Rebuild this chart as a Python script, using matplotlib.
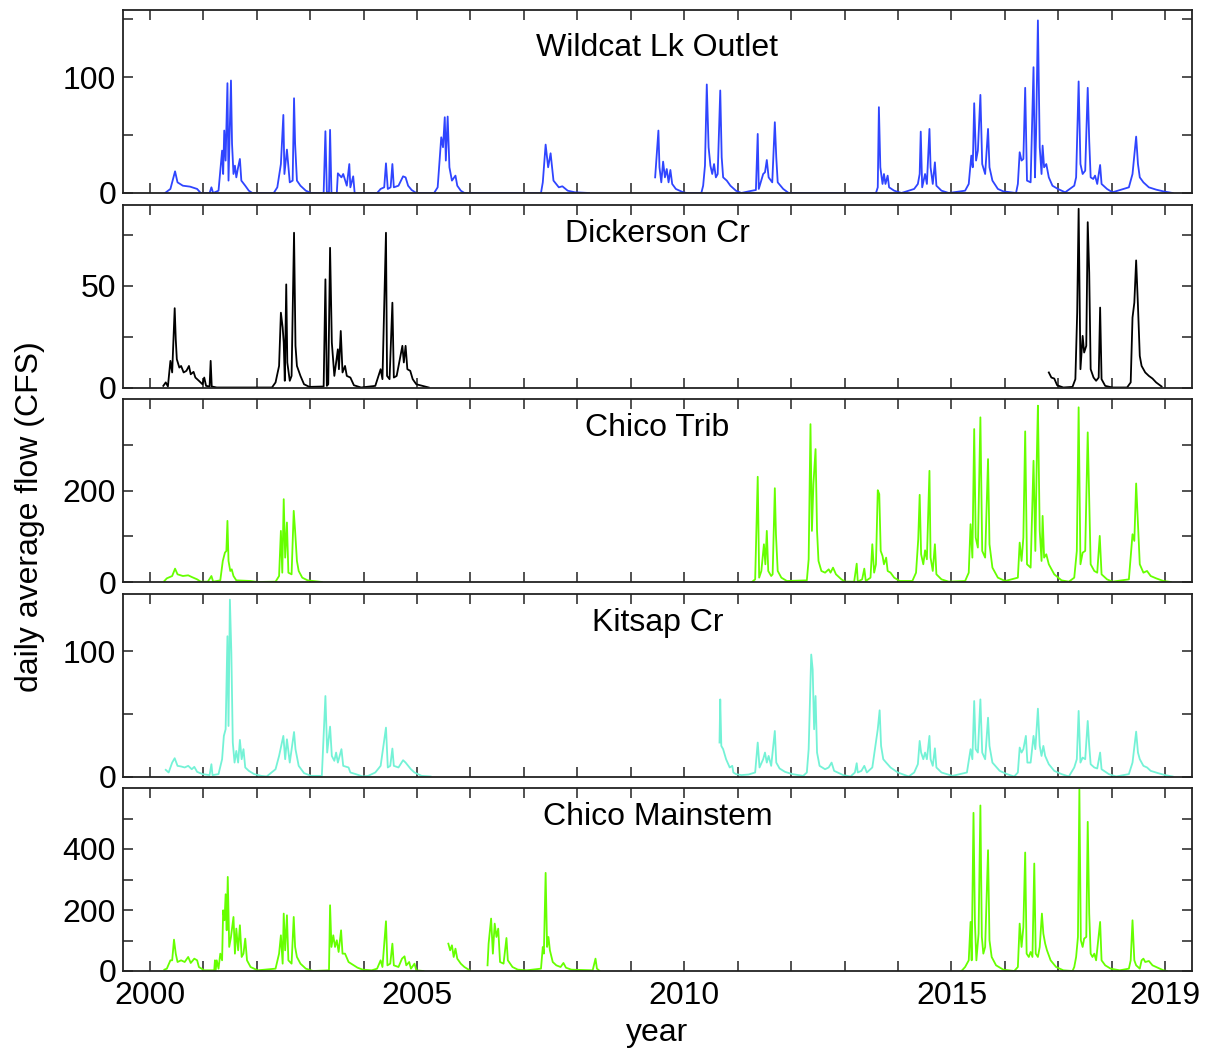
import numpy as np
import matplotlib
matplotlib.use("Agg")
import matplotlib.pyplot as plt

nan = np.nan

# ---------------- data ----------------
station_names = ["Wildcat Lk Outlet", "Dickerson Cr", "Chico Trib", "Kitsap Cr", "Chico Mainstem"]
year_ticks = list(range(2000, 2020))
year_tick_labels = ["2000", "", "", "", "", "2005", "", "", "", "", "2010",
                    "", "", "", "", "2015", "", "", "", "2019"]

wildcat_year = [
    2000.287, 2000.387, 2000.474, 2000.520, 2000.620, 2000.754, 2000.887, 2000.954, 2001.120, 2001.154,
    2001.187, 2001.287, 2001.354, 2001.374, 2001.394, 2001.420, 2001.454, 2001.474, 2001.520, 2001.540,
    2001.567, 2001.594, 2001.620, 2001.654, 2001.687, 2001.714, 2001.787, 2001.854, 2001.920, 2002.320,
    2002.387, 2002.454, 2002.500, 2002.520, 2002.567, 2002.620, 2002.674, 2002.700, 2002.720, 2002.754,
    2002.820, 2002.920, 2003.020, 2003.254, 2003.287, 2003.314, 2003.354, 2003.374, 2003.400, 2003.500,
    2003.520, 2003.587, 2003.620, 2003.687, 2003.734, 2003.754, 2003.807, 2003.834, 2004.254, 2004.320,
    2004.387, 2004.420, 2004.454, 2004.507, 2004.540, 2004.567, 2004.654, 2004.740, 2004.787, 2004.834,
    2004.900, 2004.987, 2005.320, 2005.387, 2005.454, 2005.487, 2005.520, 2005.540, 2005.574, 2005.607,
    2005.654, 2005.720, 2005.754, 2005.820, 2005.887, 2007.320, 2007.354, 2007.407, 2007.454, 2007.500,
    2007.554, 2007.654, 2007.720, 2007.820, 2007.954, 2008.220, 2008.800,
    2009.456, 2009.517, 2009.537, 2009.571, 2009.605, 2009.639, 2009.673, 2009.707, 2009.741, 2009.775,
    2009.843, 2009.979, 2010.048, 2010.320, 2010.354, 2010.388, 2010.422, 2010.456, 2010.490, 2010.524,
    2010.558, 2010.592, 2010.626, 2010.674, 2010.701, 2010.728, 2010.796, 2010.864, 2010.967, 2011.069,
    2011.205, 2011.341, 2011.375, 2011.395, 2011.477, 2011.511, 2011.545, 2011.579, 2011.647, 2011.695,
    2011.722, 2011.749, 2011.852, 2011.954, 2013.587, 2013.621, 2013.642, 2013.669, 2013.710, 2013.737,
    2013.765, 2013.806, 2013.833, 2013.928, 2014.064, 2014.302, 2014.371, 2014.405, 2014.425, 2014.452,
    2014.506, 2014.540, 2014.588, 2014.609, 2014.650, 2014.690, 2014.718, 2014.813, 2014.949, 2015.255,
    2015.323, 2015.371, 2015.398, 2015.425, 2015.460, 2015.494, 2015.541, 2015.575, 2015.630, 2015.684,
    2015.711, 2015.766, 2015.868, 2015.970, 2016.208, 2016.242, 2016.276, 2016.311, 2016.345, 2016.379,
    2016.413, 2016.481, 2016.535, 2016.562, 2016.583, 2016.617, 2016.651, 2016.685, 2016.705, 2016.733,
    2016.774, 2016.821, 2016.889, 2016.991, 2017.127, 2017.297, 2017.332, 2017.379, 2017.413, 2017.454,
    2017.502, 2017.549, 2017.577, 2017.604, 2017.652, 2017.686, 2017.727, 2017.781, 2017.808, 2017.910,
    2018.012, 2018.319, 2018.387, 2018.455, 2018.489, 2018.523, 2018.591, 2018.693, 2018.829, 2018.966,
    2019.136]
wildcat_cfs = [
    0, 3.5, 18.7, 9.2, 6.3, 5.5, 3.5, 0, 0, 4.9,
    0, 2, 36.6, 16.4, 53.9, 28, 94.8, 10.7, 97.1, 42.4,
    16.4, 23.6, 13.5, 22.2, 29.4, 10.7, 6.3, 2, 0, 0,
    4.9, 25, 67.4, 16.4, 37.5, 9.2, 10.7, 81.8, 42.4, 10.7,
    6.3, 2, 0, 0, 53.3, 0.6, 0.6, 54.5, 0, 0,
    17, 13.5, 16.4, 6.3, 25, 4.9, 14.4, 0, 0, 3.5,
    4.9, 25.6, 3.5, 4.9, 25, 4.9, 6.3, 14.4, 13.5, 6.3,
    2.6, 0, 0, 4.9, 48.1, 39.5, 65.4, 28, 66, 22.2,
    10.7, 15, 6.3, 2, 0, 0, 9.2, 41.8, 22.2, 34.3,
    10.7, 4.9, 5.8, 2, 0.6, 0, nan,
    13.5, 53.9, 22.2, 9.2, 27.1, 13.5, 20.7, 9.2, 19.9, 7.8,
    3.5, 0.6, 0, 0, 6.3, 23.6, 93.7, 39.5, 23.6, 16.4,
    25, 13.5, 16.4, 88.5, 30.8, 13.5, 10.7, 6.3, 2, 0,
    1.4, 2.6, 51, 3.5, 16.4, 17.9, 28.5, 13.5, 9.2, 61.1,
    30.8, 9.2, 3.5, 0, 0, 4.9, 74.1, 22.2, 7.8, 16.4,
    7.8, 15, 4.9, 2, 0, 3.5, 7.8, 16.4, 53, 4.9,
    16.4, 7.8, 55.3, 22.2, 7.8, 26.5, 6.3, 2, 0, 2,
    7.8, 32.3, 22.2, 77.5, 28, 36.6, 84.7, 25, 16.4, 55.3,
    22.2, 10.7, 3.5, 1.4, 0, 7.8, 35.2, 28, 29.4, 90.8,
    10.7, 9.2, 108.6, 13.5, 51, 149, 39.5, 16.4, 40.9, 22.2,
    25, 13.5, 6.3, 3.5, 0.6, 6.3, 13.5, 96.3, 25, 16.4,
    19.3, 90.8, 45.2, 13.5, 12.1, 15, 7.8, 24.2, 7.8, 3.5,
    0.6, 4.9, 16.4, 48.7, 25, 13.5, 9.2, 4.9, 2.9, 1.4,
    0]

dickerson_year = [
    2000.254, 2000.300, 2000.340, 2000.387, 2000.420, 2000.467, 2000.487, 2000.507, 2000.554, 2000.587,
    2000.634, 2000.687, 2000.734, 2000.767, 2000.820, 2000.854, 2000.920, 2000.987, 2001.020, 2001.054,
    2001.120, 2001.140, 2001.160, 2001.254, 2002.287, 2002.354, 2002.420, 2002.454, 2002.487, 2002.507,
    2002.527, 2002.554, 2002.574, 2002.620, 2002.654, 2002.700, 2002.727, 2002.754, 2002.820, 2002.887,
    2002.987, 2003.254, 2003.287, 2003.314, 2003.340, 2003.374, 2003.407, 2003.454, 2003.520, 2003.540,
    2003.574, 2003.607, 2003.654, 2003.687, 2003.754, 2003.820, 2003.954, 2004.220, 2004.320, 2004.354,
    2004.420, 2004.440, 2004.487, 2004.540, 2004.567, 2004.620, 2004.727, 2004.754, 2004.787, 2004.820,
    2004.874, 2004.920, 2004.987, 2005.220, 2010.000,
    2016.821, 2016.869, 2016.923, 2016.977, 2017.093, 2017.264, 2017.318, 2017.352, 2017.379, 2017.413,
    2017.454, 2017.482, 2017.522, 2017.549, 2017.577, 2017.604, 2017.658, 2017.706, 2017.754, 2017.781,
    2017.808, 2017.876, 2018.012, 2018.285, 2018.353, 2018.387, 2018.421, 2018.455, 2018.489, 2018.523,
    2018.557, 2018.625, 2018.693, 2018.761, 2018.829, 2018.931]
dickerson_cfs = [
    0.8, 2.5, 0.5, 13.1, 7.4, 39, 23.7, 13.9, 9.8, 10.6,
    7.4, 8.2, 10.6, 6.5, 7.7, 4.9, 3.3, 1.6, 4.9, 0.8,
    0.5, 13.1, 0.5, 0, 0, 2.5, 10.6, 36.8, 29.5, 22.1,
    3.3, 50.7, 12.3, 3.3, 5.7, 76.1, 20.5, 10.6, 5.7, 1.6,
    0.3, 0.5, 53.2, 0.8, 1.6, 68.7, 22.1, 5.7, 18.8, 9,
    27.8, 7.4, 10.6, 5.7, 4.9, 1.1, 0, 0.8, 9, 4.1,
    76.1, 5.7, 4.1, 41.7, 4.9, 5.7, 20.5, 12.3, 20.5, 9,
    8.2, 4.1, 1.6, 0, nan,
    7.4, 4.9, 4.4, 1.1, 0, 0.3, 4.1, 36.8, 87.9, 9,
    25.4, 17.2, 20.5, 81.3, 56.5, 9, 4.9, 3.3, 4.9, 39.3,
    4.1, 0.8, 0, 0, 2.5, 34.4, 41.7, 62.5, 40.1, 15.5,
    10.6, 7.4, 5.7, 4.4, 2.5, 0.5]

chico_trib_year = [
    2000.274, 2000.320, 2000.420, 2000.474, 2000.520, 2000.620, 2000.720, 2000.787, 2000.887, 2000.954,
    2001.087, 2001.154, 2001.187, 2001.320, 2001.367, 2001.407, 2001.434, 2001.454, 2001.474, 2001.507,
    2001.534, 2001.567, 2001.620, 2001.887, 2002.020, 2002.354, 2002.420, 2002.454, 2002.480, 2002.507,
    2002.534, 2002.567, 2002.594, 2002.654, 2002.694, 2002.720, 2002.754, 2002.787, 2002.854, 2002.954,
    2003.220, 2007.000,
    2011.273, 2011.327, 2011.375, 2011.402, 2011.443, 2011.491, 2011.518, 2011.545, 2011.572, 2011.627,
    2011.654, 2011.695, 2011.716, 2011.749, 2011.817, 2011.920, 2012.294, 2012.328, 2012.362, 2012.389,
    2012.417, 2012.457, 2012.485, 2012.512, 2012.566, 2012.635, 2012.703, 2012.737, 2012.784, 2012.839,
    2012.941, 2013.009, 2013.179, 2013.227, 2013.247, 2013.329, 2013.369, 2013.397, 2013.485, 2013.519,
    2013.553, 2013.587, 2013.621, 2013.649, 2013.676, 2013.710, 2013.737, 2013.778, 2013.806, 2013.860,
    2013.928, 2014.030, 2014.268, 2014.337, 2014.378, 2014.405, 2014.432, 2014.473, 2014.506, 2014.540,
    2014.588, 2014.609, 2014.650, 2014.690, 2014.718, 2014.813, 2014.949, 2015.255, 2015.323, 2015.357,
    2015.391, 2015.425, 2015.453, 2015.494, 2015.541, 2015.575, 2015.630, 2015.684, 2015.711, 2015.766,
    2015.868, 2016.004, 2016.242, 2016.276, 2016.311, 2016.345, 2016.379, 2016.413, 2016.481, 2016.535,
    2016.569, 2016.597, 2016.617, 2016.651, 2016.685, 2016.705, 2016.733, 2016.774, 2016.821, 2016.923,
    2017.059, 2017.196, 2017.297, 2017.345, 2017.379, 2017.413, 2017.454, 2017.502, 2017.549, 2017.577,
    2017.604, 2017.672, 2017.727, 2017.774, 2017.808, 2017.910, 2018.012, 2018.319, 2018.387, 2018.421,
    2018.455, 2018.489, 2018.523, 2018.591, 2018.659, 2018.727, 2018.829, 2018.966, 2019.102]
chico_trib_cfs = [
    2.2, 8, 13.1, 29.2, 16.8, 13.1, 14.6, 10.9, 5.8, 0.7,
    0.7, 13.1, 0.7, 3.6, 46, 64.2, 67.9, 133.6, 46, 24.1,
    27.7, 13.1, 3.6, 2.2, 0, 0.7, 13.1, 111.7, 20.4, 181,
    53.3, 130, 20.4, 16.8, 155.5, 111.7, 46, 24.1, 9.5, 3.6,
    0, nan,
    0.7, 5.8, 230, 9.5, 24.1, 82.5, 38.7, 111.7, 24.1, 13.1,
    16.8, 205, 104.4, 24.1, 9.5, 2.2, 3.6, 49.6, 345, 111.7,
    213.9, 290.5, 111.7, 46, 24.1, 20.4, 27.7, 20.4, 31.4, 16.8,
    5.8, 0.7, 0.7, 40.1, 0.7, 5.8, 29.2, 2.2, 9.5, 82.5,
    20.4, 38.7, 200.7, 192, 67.9, 56.9, 38.7, 53.3, 24.1, 20.4,
    9.5, 2.2, 2.2, 20.4, 93.4, 190.5, 60.6, 38.7, 69.3, 49.6,
    243, 53.3, 24.1, 82.5, 16.8, 5.8, 0.7, 2.2, 20.4, 126.3,
    53.3, 334.3, 97.1, 75.2, 359.9, 67.9, 53.3, 268.6, 82.5, 31.4,
    9.5, 2.2, 9.5, 86.1, 46, 97.1, 329.2, 38.7, 31.4, 265,
    67.9, 275.9, 385.4, 111.7, 46, 144.5, 53.3, 60.6, 38.7, 16.8,
    3.6, 0.7, 9.5, 67.9, 381.8, 38.7, 64.2, 67.9, 327, 184.7,
    38.7, 24.1, 20.4, 100.7, 16.8, 5.8, 0.7, 5.8, 104.4, 89.8,
    215.3, 126.3, 38.7, 20.4, 24.1, 13.1, 8, 2.2, 0]

kitsap_year = [
    2000.300, 2000.354, 2000.420, 2000.467, 2000.520, 2000.587, 2000.654, 2000.720, 2000.787, 2000.834,
    2000.887, 2000.987, 2001.120, 2001.154, 2001.174, 2001.287, 2001.354, 2001.387, 2001.420, 2001.454,
    2001.474, 2001.500, 2001.527, 2001.554, 2001.587, 2001.620, 2001.654, 2001.687, 2001.720, 2001.754,
    2001.787, 2001.854, 2001.954, 2002.087, 2002.187, 2002.354, 2002.420, 2002.500, 2002.534, 2002.567,
    2002.620, 2002.700, 2002.727, 2002.787, 2002.887, 2003.020, 2003.220, 2003.287, 2003.320, 2003.374,
    2003.407, 2003.454, 2003.487, 2003.520, 2003.587, 2003.620, 2003.720, 2003.754, 2003.854, 2003.987,
    2004.087, 2004.220, 2004.320, 2004.420, 2004.454, 2004.500, 2004.540, 2004.567, 2004.654, 2004.740,
    2004.787, 2004.887, 2004.954, 2005.087, 2005.254, 2008.000,
    2010.660, 2010.674, 2010.694, 2010.728, 2010.783, 2010.851, 2010.899, 2010.919, 2010.967, 2011.069,
    2011.205, 2011.327, 2011.375, 2011.409, 2011.477, 2011.511, 2011.545, 2011.579, 2011.627, 2011.695,
    2011.722, 2011.784, 2011.886, 2012.022, 2012.226, 2012.294, 2012.328, 2012.376, 2012.403, 2012.430,
    2012.457, 2012.485, 2012.532, 2012.635, 2012.703, 2012.757, 2012.805, 2012.975, 2013.111, 2013.193,
    2013.227, 2013.247, 2013.315, 2013.369, 2013.417, 2013.519, 2013.621, 2013.656, 2013.683, 2013.724,
    2013.778, 2013.860, 2013.996, 2014.200, 2014.302, 2014.371, 2014.405, 2014.432, 2014.473, 2014.506,
    2014.540, 2014.588, 2014.609, 2014.650, 2014.690, 2014.718, 2014.813, 2015.017, 2015.289, 2015.357,
    2015.391, 2015.425, 2015.453, 2015.494, 2015.541, 2015.575, 2015.630, 2015.684, 2015.711, 2015.766,
    2015.902, 2016.038, 2016.174, 2016.242, 2016.276, 2016.311, 2016.345, 2016.392, 2016.420, 2016.481,
    2016.535, 2016.569, 2016.617, 2016.651, 2016.685, 2016.719, 2016.753, 2016.821, 2016.923, 2017.059,
    2017.196, 2017.297, 2017.345, 2017.379, 2017.413, 2017.454, 2017.502, 2017.549, 2017.577, 2017.604,
    2017.672, 2017.727, 2017.781, 2017.808, 2017.944, 2018.080, 2018.319, 2018.387, 2018.455, 2018.489,
    2018.523, 2018.591, 2018.659, 2018.727, 2018.863, 2018.999, 2019.136]
kitsap_cfs = [
    5.3, 3.2, 11.1, 14.6, 8.5, 8, 7.2, 8.5, 5.8, 7.7,
    3.7, 1.9, 1.1, 9.8, 1.1, 1.9, 13.8, 32.4, 37.7, 111.9,
    40.3, 141.1, 98.7, 27.1, 11.1, 20.4, 11.1, 29.2, 13.8, 21.8,
    7.2, 4.5, 1.9, 0.5, 0, 5.8, 16.4, 32.4, 13.8, 29.7,
    11.1, 35.5, 21.8, 8.5, 2.7, 0.5, 0.5, 64.2, 19.1, 39.8,
    16.4, 12.5, 19.1, 11.1, 21.8, 8.5, 7.2, 3.2, 1.9, 0,
    0.5, 3.2, 8.5, 39, 7.2, 8.5, 22.3, 8.5, 7.2, 13,
    11.1, 5.8, 3.2, 0.5, 0, nan,
    27.1, 61.5, 24.4, 21.8, 13.8, 7.2, 8.5, 3.2, 1.9, 1.1,
    1.6, 3.2, 27.1, 7.2, 13.8, 19.1, 11.1, 16.4, 8.5, 36.3,
    11.1, 6.4, 3.7, 1.9, 0.5, 3.2, 21.8, 97.3, 85.4, 37.7,
    64.2, 19.1, 8.5, 5.8, 7.2, 11.1, 4.5, 1.1, 0, 3.2,
    10.6, 3.2, 4.5, 8.5, 3.2, 7.2, 37.7, 52.8, 24.4, 13.8,
    11.1, 7.2, 3.2, 0, 3.2, 9.8, 28.4, 19.1, 13.8, 19.1,
    13.8, 32.4, 13.8, 8.5, 22.5, 7.2, 3.2, 0.5, 3.2, 21.8,
    13.8, 60.2, 21.8, 19.1, 61.5, 19.1, 13.8, 46.9, 24.4, 11.1,
    4.5, 1.9, 0, 3.2, 23.1, 19.1, 21.8, 32.4, 11.1, 11.1,
    32.4, 21.8, 54.1, 24.4, 16.4, 24.4, 16.4, 9.8, 4.5, 1.9,
    0, 7.2, 13.8, 52.3, 11.1, 15.1, 13.8, 44.3, 24.4, 9.8,
    7.2, 6.4, 19.1, 5.8, 1.9, 0, 1.9, 11.1, 35.8, 19.1,
    13.8, 8.5, 7.2, 4.5, 2.7, 1.1, 0]

chico_main_year = [
    2000.274, 2000.320, 2000.387, 2000.420, 2000.454, 2000.487, 2000.520, 2000.587, 2000.654, 2000.720,
    2000.767, 2000.834, 2000.887, 2000.920, 2001.020, 2001.207, 2001.220, 2001.234, 2001.254, 2001.287,
    2001.320, 2001.354, 2001.374, 2001.400, 2001.420, 2001.440, 2001.460, 2001.487, 2001.520, 2001.567,
    2001.594, 2001.620, 2001.654, 2001.687, 2001.720, 2001.754, 2001.787, 2001.820, 2001.887, 2002.020,
    2002.354, 2002.420, 2002.454, 2002.487, 2002.507, 2002.534, 2002.567, 2002.594, 2002.654, 2002.694,
    2002.720, 2002.754, 2002.820, 2002.920, 2003.054, 2003.354, 2003.374, 2003.400, 2003.434, 2003.467,
    2003.500, 2003.534, 2003.580, 2003.607, 2003.654, 2003.720, 2003.820, 2003.887, 2003.987, 2004.154,
    2004.254, 2004.320, 2004.354, 2004.420, 2004.447, 2004.500, 2004.540, 2004.567, 2004.654, 2004.720,
    2004.767, 2004.800, 2004.854, 2004.887, 2004.954, 2004.987, 2005.120, 2005.300,
    2005.587, 2005.620, 2005.654, 2005.687, 2005.720, 2005.754, 2005.820, 2005.887, 2005.987, 2006.100,
    2006.320, 2006.340, 2006.387, 2006.420, 2006.454, 2006.487, 2006.520, 2006.554, 2006.620, 2006.674,
    2006.700, 2006.787, 2006.887, 2007.054, 2007.320, 2007.354, 2007.374, 2007.407, 2007.434, 2007.460,
    2007.487, 2007.540, 2007.607, 2007.687, 2007.740, 2007.787, 2007.887, 2008.287, 2008.340, 2008.367,
    2008.420, 2012.000,
    2015.187, 2015.255, 2015.323, 2015.357, 2015.378, 2015.412, 2015.439, 2015.466, 2015.507, 2015.541,
    2015.568, 2015.596, 2015.630, 2015.684, 2015.711, 2015.752, 2015.834, 2015.970, 2016.174, 2016.242,
    2016.276, 2016.311, 2016.345, 2016.379, 2016.406, 2016.447, 2016.481, 2016.515, 2016.549, 2016.576,
    2016.617, 2016.651, 2016.692, 2016.719, 2016.753, 2016.787, 2016.855, 2016.957, 2017.093, 2017.264,
    2017.297, 2017.332, 2017.366, 2017.393, 2017.420, 2017.454, 2017.482, 2017.522, 2017.549, 2017.577,
    2017.604, 2017.638, 2017.672, 2017.706, 2017.781, 2017.808, 2017.876, 2017.978, 2018.148, 2018.319,
    2018.353, 2018.387, 2018.421, 2018.455, 2018.523, 2018.557, 2018.591, 2018.625, 2018.693, 2018.761,
    2018.829, 2018.966, 2019.034]
chico_main_cfs = [
    4.4, 7.7, 35, 35, 102.8, 56.9, 29.5, 35, 29.5, 46,
    26.3, 40.5, 35, 13.1, 2.2, 2.2, 35, 2.2, 35, 7.7,
    56.9, 35, 199.1, 166.3, 251.6, 133.5, 308.5, 78.8, 111.6, 177.2,
    56.9, 139, 67.8, 149.9, 46, 56.9, 106.1, 35, 13.1, 2.2,
    7.7, 56.9, 117.1, 24.1, 188.2, 67.8, 182.7, 35, 24.1, 177.2,
    78.8, 46, 24.1, 7.7, 0, 2.2, 215.5, 78.8, 117.1, 78.8,
    100.7, 62.4, 133.5, 56.9, 56.9, 29.5, 18.6, 10.9, 4.4, 2.2,
    7.7, 35, 13.1, 163, 18.6, 24.1, 89.7, 18.6, 13.1, 40.5,
    48.1, 18.6, 29.5, 7.7, 24.1, 2.2, 0, nan,
    89.7, 67.8, 84.2, 46, 73.3, 40.5, 24.1, 13.1, 2.2, nan,
    18.6, 89.7, 171.8, 56.9, 155.4, 111.6, 139, 29.5, 24.1, 108.3,
    35, 13.1, 4.4, 2.2, 7.7, 78.8, 56.9, 321.7, 78.8, 111.6,
    67.8, 29.5, 18.6, 13.1, 26.3, 10.9, 4.4, 2.2, 40.5, 7.7,
    0, nan,
    0, 13.1, 35, 160.8, 35, 518.6, 155.4, 35, 122.5, 542.7,
    111.6, 56.9, 78.8, 396.1, 100.7, 46, 18.6, 4.4, 0, 13.1,
    155.4, 78.8, 144.4, 388.4, 56.9, 46, 62.4, 46, 352.3, 56.9,
    46, 78.8, 188.2, 122.5, 89.7, 67.8, 35, 13.1, 2.2, 0,
    13.1, 46, 111.6, 595, 100.7, 78.8, 106.1, 111.6, 489.1, 188.2,
    56.9, 46, 56.9, 35, 160.8, 35, 18.6, 7.7, 2.2, 7.7,
    35, 166.3, 35, 18.6, 7.7, 35, 40.5, 29.5, 32.8, 18.6,
    13.1, 2.2, 0]

series_years = [wildcat_year, dickerson_year, chico_trib_year, kitsap_year, chico_main_year]
series_flows = [wildcat_cfs, dickerson_cfs, chico_trib_cfs, kitsap_cfs, chico_main_cfs]
line_colors = ["#2f45ff", "#000000", "#66ff00", "#74f2d6", "#66ff00"]
y_max = [158, 90, 400, 146, 600]
y_ticks = [[0, 50, 100, 150], [0, 25, 50, 75], [0, 100, 200, 300], [0, 50, 100],
           [0, 100, 200, 300, 400, 500]]
y_tick_labels = [["0", "", "100", ""], ["0", "", "50", ""], ["0", "", "200", ""],
                 ["0", "", "100"], ["0", "", "200", "", "400", ""]]
title_y = [0.795, 0.84, 0.84, 0.84, 0.84]

# ---------------- drawing ----------------
plt.rcParams["font.family"] = ["Liberation Sans", "DejaVu Sans"]
FS = 23

W, H = 1210, 1051
fig = plt.figure(figsize=(W / 100, H / 100), dpi=100)

left_px, right_px = 123, 1192
tops_px = [10, 204.5, 399, 593.5, 788]
height_px = 183

for i in range(5):
    top = tops_px[i]
    ax = fig.add_axes([left_px / W, 1 - (top + height_px) / H,
                       (right_px - left_px) / W, height_px / H])
    ax.plot(series_years[i], series_flows[i], color=line_colors[i], lw=1.3)
    ax.set_xlim(1999.5, 2019.5)
    ax.set_ylim(0, y_max[i])
    ax.set_xticks(year_ticks)
    if i == 4:
        ax.set_xticklabels(year_tick_labels)
    else:
        ax.set_xticklabels([])
    ax.set_yticks(y_ticks[i])
    ax.set_yticklabels(y_tick_labels[i])
    ax.tick_params(direction="in", length=7, width=1.1, top=True, right=True,
                   labelsize=FS, color="#222222")
    ax.tick_params(axis="x", pad=7)
    ax.tick_params(axis="y", pad=5)
    for s in ax.spines.values():
        s.set_linewidth(1.3)
        s.set_color("#222222")
    ax.text(0.5, title_y[i], station_names[i], transform=ax.transAxes,
            ha="center", va="center", fontsize=FS)

fig.text(30 / W, 1 - 517 / H, "daily average flow (CFS)", rotation=90,
         ha="center", va="center", fontsize=FS)
fig.text(657 / W, 1 - 1033 / H, "year", ha="center", va="center", fontsize=FS)

fig.savefig("out.png", dpi=100)
